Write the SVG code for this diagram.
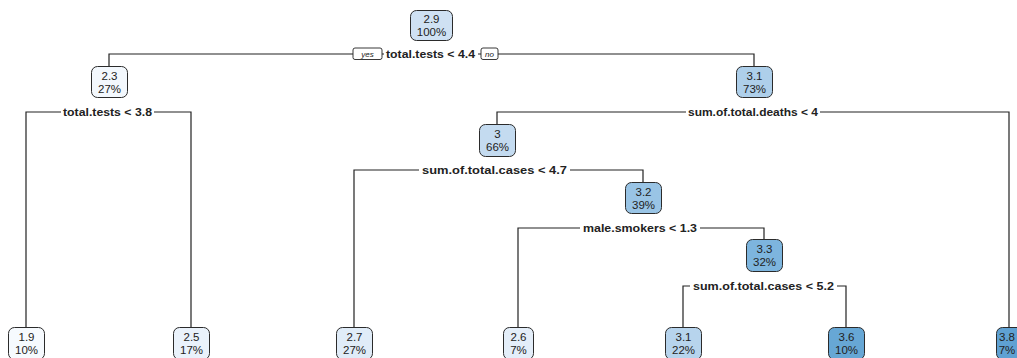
<svg xmlns="http://www.w3.org/2000/svg" width="1017" height="358" viewBox="0 0 1017 358">
  <style>
    .box { stroke: #2b2b2b; stroke-width: 1; }
    .val { font-family: "Liberation Sans", Arial, sans-serif; font-size: 11.5px; fill: #222; text-anchor: middle; }
    .edge { fill: none; stroke: #222; stroke-width: 1.2; }
    .split { font-family: "Liberation Sans", Arial, sans-serif; font-size: 11.5px; font-weight: bold; fill: #222; text-anchor: middle; }
    .bg { fill: #ffffff; }
    .tag { fill: #ffffff; stroke: #222; stroke-width: 0.9; }
    .tagtext { font-family: "Liberation Sans", Arial, sans-serif; font-size: 8px; font-style: italic; fill: #222; text-anchor: middle; }
  </style>
  <rect width="1017" height="358" fill="#ffffff"/>

  <!-- connectors: split bars and drops to child nodes -->
  <g id="connectors">
    <path class="edge" d="M109,66 V54 H754 V66"/>
    <path class="edge" d="M26,327 V112 H191 V327"/>
    <path class="edge" d="M497,124 V112 H1009 V327"/>
    <path class="edge" d="M354,327 V170 H643 V182"/>
    <path class="edge" d="M518,327 V228 H764 V239"/>
    <path class="edge" d="M683,327 V286 H846 V327"/>
  </g>

  <!-- split labels -->
  <g id="splits">
    <rect class="bg" x="384" y="48" width="94" height="12"/>
    <text class="split" x="430.5" y="58" textLength="89" lengthAdjust="spacingAndGlyphs">total.tests &lt; 4.4</text>
    <rect class="tag" x="353" y="48" width="29" height="11.5" rx="2"/>
    <text class="tagtext" x="367.5" y="56.5">yes</text>
    <rect class="tag" x="481" y="48" width="17" height="11.5" rx="2"/>
    <text class="tagtext" x="489.5" y="56.5">no</text>

    <rect class="bg" x="61" y="106" width="93" height="12"/>
    <text class="split" x="107.5" y="116" textLength="89" lengthAdjust="spacingAndGlyphs">total.tests &lt; 3.8</text>

    <rect class="bg" x="686" y="106" width="134" height="12"/>
    <text class="split" x="753" y="116" textLength="130" lengthAdjust="spacingAndGlyphs">sum.of.total.deaths &lt; 4</text>

    <rect class="bg" x="419" y="164" width="151" height="12"/>
    <text class="split" x="494.5" y="174" textLength="145" lengthAdjust="spacingAndGlyphs">sum.of.total.cases &lt; 4.7</text>

    <rect class="bg" x="580" y="222" width="120" height="12"/>
    <text class="split" x="640" y="232" textLength="114" lengthAdjust="spacingAndGlyphs">male.smokers &lt; 1.3</text>

    <rect class="bg" x="690" y="280" width="147" height="12"/>
    <text class="split" x="763.5" y="290" textLength="141" lengthAdjust="spacingAndGlyphs">sum.of.total.cases &lt; 5.2</text>
  </g>

  <!-- internal nodes -->
  <g id="n1">
    <rect class="box" x="410.5" y="10.5" width="42" height="30" rx="6" fill="#cfe1f3"/>
    <text class="val" x="431.5" y="23">2.9</text>
    <text class="val" x="431.5" y="36">100%</text>
  </g>
  <g id="n2">
    <rect class="box" x="91.5" y="66.5" width="36" height="31" rx="6" fill="#f3f8fd"/>
    <text class="val" x="109.5" y="80">2.3</text>
    <text class="val" x="109.5" y="93">27%</text>
  </g>
  <g id="n3">
    <rect class="box" x="736.5" y="66.5" width="36" height="31" rx="6" fill="#aecfea"/>
    <text class="val" x="754.5" y="80">3.1</text>
    <text class="val" x="754.5" y="93">73%</text>
  </g>
  <g id="n6">
    <rect class="box" x="479.5" y="124.5" width="36" height="32" rx="6" fill="#c4dbf0"/>
    <text class="val" x="497.5" y="138">3</text>
    <text class="val" x="497.5" y="151">66%</text>
  </g>
  <g id="n13">
    <rect class="box" x="625.5" y="182.5" width="36" height="31" rx="6" fill="#99c4e5"/>
    <text class="val" x="643.5" y="196">3.2</text>
    <text class="val" x="643.5" y="209">39%</text>
  </g>
  <g id="n27">
    <rect class="box" x="746.5" y="239.5" width="36" height="32" rx="6" fill="#7db5de"/>
    <text class="val" x="764.5" y="253">3.3</text>
    <text class="val" x="764.5" y="266">32%</text>
  </g>

  <!-- leaves -->
  <g id="n4">
    <rect class="box" x="8.5" y="327.5" width="36" height="32" rx="6" fill="#f6fafe"/>
    <text class="val" x="26.5" y="341">1.9</text>
    <text class="val" x="26.5" y="354">10%</text>
  </g>
  <g id="n5">
    <rect class="box" x="173.5" y="327.5" width="36" height="32" rx="6" fill="#eaf2fb"/>
    <text class="val" x="191.5" y="341">2.5</text>
    <text class="val" x="191.5" y="354">17%</text>
  </g>
  <g id="n12">
    <rect class="box" x="336.5" y="327.5" width="36" height="32" rx="6" fill="#e0ecf8"/>
    <text class="val" x="354.5" y="341">2.7</text>
    <text class="val" x="354.5" y="354">27%</text>
  </g>
  <g id="n26">
    <rect class="box" x="503.5" y="327.5" width="30" height="32" rx="6" fill="#e4eef9"/>
    <text class="val" x="518.5" y="341">2.6</text>
    <text class="val" x="518.5" y="354">7%</text>
  </g>
  <g id="n54">
    <rect class="box" x="665.5" y="327.5" width="36" height="32" rx="6" fill="#b7d4ed"/>
    <text class="val" x="683.5" y="341">3.1</text>
    <text class="val" x="683.5" y="354">22%</text>
  </g>
  <g id="n55">
    <rect class="box" x="828.5" y="327.5" width="36" height="32" rx="6" fill="#67a7d5"/>
    <text class="val" x="846.5" y="341">3.6</text>
    <text class="val" x="846.5" y="354">10%</text>
  </g>
  <g id="n7">
    <rect class="box" x="996.5" y="327.5" width="30" height="32" rx="6" fill="#5fa1d3"/>
    <text class="val" x="1007" y="341">3.8</text>
    <text class="val" x="1007" y="354">7%</text>
  </g>
</svg>
